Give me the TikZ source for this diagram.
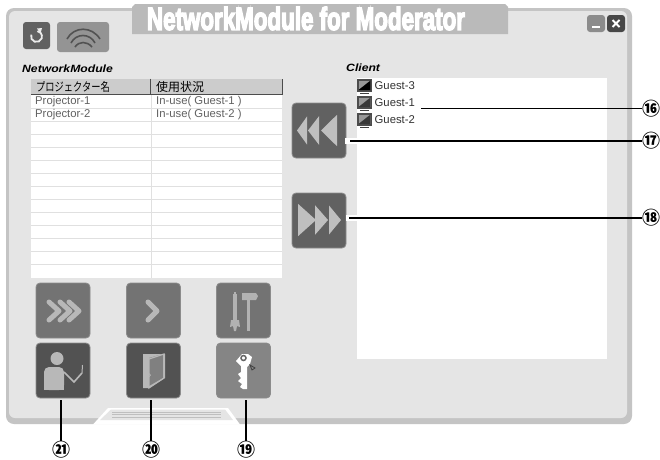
\documentclass[tikz,border=0pt]{standalone}
\usepackage{fontspec}
\usepackage{graphicx}
\setmainfont{Liberation Sans}
\newfontfamily\cjk{Noto Sans CJK JP}
\newfontfamily\heavy[UprightFont=* Bold,FakeBold=5]{Liberation Sans}
\begin{document}
\begin{tikzpicture}[x=1pt,y=-1pt,
  bigbtn/.style={rounded corners=4pt,minimum width=54pt,minimum height=55pt,inner sep=0pt,draw=black!45,line width=0.8pt},
  smallbtn/.style={rounded corners=3pt,inner sep=0pt,draw=none},
  chev/.style={draw=#1,line width=5pt,line cap=round,line join=round,fill=none},
  cell/.style={anchor=west,inner sep=0pt,font=\fontsize{11.3}{12}\selectfont,text=black!62},
  hcell/.style={anchor=west,inner sep=0pt,font=\cjk\fontsize{12}{12}\selectfont},
  guest/.style={anchor=west,inner sep=0pt,font=\fontsize{11.3}{12}\selectfont,text=black!80},
  ttl/.style={anchor=west,inner sep=0pt,font=\bfseries\itshape\fontsize{10.5}{11}\selectfont},
  leader/.style={draw=black,line width=1.1pt},
  num/.style={inner sep=0pt,font=\cjk\bfseries\fontsize{18}{18}\selectfont}]
\useasboundingbox (0,0) rectangle (660,459);
\fill[white] (0,0) rectangle (660,459);
% window
\fill[rounded corners=8pt,fill=black!23] (6,8) rectangle (632,424);
\fill[rounded corners=6pt,fill=black!10] (9,11) rectangle (627,418);
\fill[white] (93,424.5) -- (108,408) -- (228,408) -- (240,424.5) -- cycle;
\fill[black!10] (100,420) -- (111,409.5) -- (225,409.5) -- (233,420) -- cycle;
\foreach \yy in {412,414.5,417} \draw[black!25,line width=0.8pt] (112,\yy) -- (221,\yy);
% title tab
\fill[white] (128,0) rectangle (512,8);
\fill[black!27] (132,34) -- (132,7) -- (135,4) -- (505,4) -- (508,7) -- (508,34) -- cycle;
\node[inner sep=0pt,text=white] (title) at (306,18.5) {\resizebox{318pt}{23pt}{\heavy NetworkModule for Moderator}};
% top buttons
\node[smallbtn,fill=black!62,minimum width=27pt,minimum height=27pt] (refresh) at (36.5,35.5) {};
\draw[black!8,line width=1.8pt] (31.3,34.6) arc[start angle=160,delta angle=280,radius=5.5pt];
\fill[black!8] (37,28.5) -- (42,28) -- (40.5,33.5) -- cycle;
\node[smallbtn,fill=black!42,minimum width=52pt,minimum height=30pt] (wifi) at (83,37) {};
\draw[black!68,line width=1.6pt] (67,39) .. controls (74,26) and (92,26) .. (100,39);
\draw[black!68,line width=1.6pt] (71,43) .. controls (76,33) and (90,33) .. (95,43);
\draw[black!68,line width=1.6pt] (75,47) .. controls (79,41) and (87,41) .. (92,47);
\node[smallbtn,fill=black!45,minimum width=18pt,minimum height=17pt] (minbtn) at (596,23.5) {};
\fill[white] (592,26) rectangle (600,28);
\node[smallbtn,fill=black!72,minimum width=18pt,minimum height=17pt] (closebtn) at (616,23.5) {};
\draw[white,line width=2pt] (612.5,20) -- (619.5,27) (619.5,20) -- (612.5,27);
% titles
\node[ttl] (nmlabel) at (22,69) {\scalebox{1.16}[1]{NetworkModule}};
\node[ttl] (clabel) at (346,68) {\scalebox{1.16}[1]{Client}};
% table
\fill[white] (31,95) rectangle (282,277.5);
\foreach \i in {1,...,13} \draw[black!12,line width=0.8pt] (31,{95.5+13*\i}) -- (282,{95.5+13*\i});
\draw[black!12,line width=0.8pt] (151.5,95) -- (151.5,277.5);
\fill[black!20] (31,78.5) rectangle (282,94);
\draw[black!70,line width=0.8pt] (31,94) -- (282,94) -- (282,78.5);
\draw[black!70,line width=0.8pt] (150.5,78.5) -- (150.5,94);
\node[hcell] (h1) at (36,86.5) {\scalebox{.77}[1]{プロジェクター名}};
\node[hcell] (h2) at (156,86.5) {使用状況};
\node[cell] (p1) at (35,102) {Projector-1};
\node[cell] (p2) at (35,115) {Projector-2};
\node[cell] (u1) at (156,102) {In-use( Guest-1 )};
\node[cell] (u2) at (156,115) {In-use( Guest-2 )};
% client list
\fill[white] (357,78) rectangle (607,359);
\foreach \yy/\nm/\cc in {86/Guest-3/black,103/Guest-1/black!78,120/Guest-2/black!78}{
  \fill[black!70] (357,\yy-7) rectangle (372,\yy+5.5);
  \fill[black!40] (358.5,\yy-5.5) rectangle (370.5,\yy+4);
  \fill[\cc] (358.5,\yy+4) -- (370.5,\yy-5.5) -- (370.5,\yy+4) -- cycle;
  \draw[black!75,line width=0.8pt] (360,\yy+7.5) -- (369,\yy+7.5);
  \node[guest] at (374.5,\yy) {\nm};
}
\coordinate (g1) at (421,108.5);
% right arrows
\node[bigbtn,fill=black!62] (back) at (319,130.5) {};
\node[bigbtn,fill=black!62] (fwd) at (319,220.5) {};
\foreach \ax/\aw in {297/9,308/10,321/15}{
  \fill[black!25] (\ax,130.5) -- (\ax+\aw+1,119-\aw*0.28) -- (\ax+\aw+1,142+\aw*0.28) -- cycle;
}
\foreach \ax/\aw in {298/15,315/10,329/9}{
  \fill[black!25] (\ax+\aw+3,220) -- (\ax,208-\aw*0.28) -- (\ax,232+\aw*0.28) -- cycle;
}
\fill[white] (345,138) rectangle (357,144);
\fill[white] (346,215) rectangle (357,221);
\coordinate (b17) at (350,141);
\coordinate (b18) at (349,218);
% bottom buttons
\node[bigbtn,fill=black!55] (all) at (63,310.5) {};
\node[bigbtn,fill=black!55] (one) at (153.5,310.5) {};
\node[bigbtn,fill=black!55] (tools) at (243.5,310.5) {};
\node[bigbtn,fill=black!68] (teacher) at (63,370.5) {};
\node[bigbtn,fill=black!68] (door) at (153.5,370.5) {};
\node[bigbtn,fill=black!48] (key) at (243.5,370.5) {};
\foreach \ax in {49,60,69}
  \draw[chev=black!28] (\ax,302) -- (\ax+10,311) -- (\ax,320);
\draw[chev=black!28] (148,302) -- (157,311) -- (148,320);
% tools
\fill[black!30] (233,294) rectangle (237,320);
\fill[black!30] (231,320) -- (239,320) -- (240,327) -- (237,326) -- (236,331) -- (234,331) -- (233,326) -- (230,327) -- cycle;
\fill[black!30] (234,292) rectangle (236,295);
\fill[black!30] (247,297) rectangle (250,331);
\fill[black!30] (242,293) -- (256,293) -- (258,296) -- (256,300) -- (242,300) -- cycle;
% person
\fill[black!28] (57,358.5) circle (6.5pt);
\fill[black!28,rounded corners=5pt] (44,390) -- (44,367) -- (64,367) -- (64,390) -- cycle;
\fill[black!28] (44,385) rectangle (64,390);
\draw[black!28,line width=1.6pt] (64,372) -- (74,382) -- (82,373);
\draw[black!28,line width=1pt] (82,373) -- (82.5,365);
% door
\fill[black!28] (143,354) -- (165,354) -- (165,378) -- (149,388) -- (143,388) -- cycle;
\fill[black!50] (149,358) -- (163,354) -- (163,378) -- (149,386) -- cycle;
\draw[black!28,line width=1.2pt] (149,359) -- (164,354) -- (164,378) -- (149,388) -- cycle;
\draw[black!28,line width=0.7pt] (149,375) circle (1.5pt);
% key
\fill[white] (242,354) -- (248,354) -- (252,357) -- (250,364) -- (247,367) -- (247,389) -- (243,389) -- (240,387) -- (242,384) -- (238,381) -- (241,378) -- (238,374) -- (241,372) -- (241,366) -- (236,361) -- cycle;
\draw[black!60,line width=1.5pt] (243.5,358) circle (2.5pt);
\draw[black!75,line width=0.8pt] (250,365) -- (255,368) -- (252,370) -- cycle;
% bottom leaders
\coordinate (l21) at (61,400);
\coordinate (l20) at (151,400);
\coordinate (l19) at (246,400);
% labels
\node[num] (n16) at (651,108.5) {⑯};
\node[num] (n17) at (651,141) {⑰};
\node[num] (n18) at (651,218) {⑱};
\node[num] (n19) at (246,450) {⑲};
\node[num] (n20) at (151,450) {⑳};
\node[num] (n21) at (61,450) {㉑};
\draw[leader] (g1) -- (n16.west);
\draw[leader] (b17) -- (n17.west);
\draw[leader] (b18) -- (n18.west);
\draw[leader] (l19) -- (n19.north);
\draw[leader] (l20) -- (n20.north);
\draw[leader] (l21) -- (n21.north);
\end{tikzpicture}
\end{document}
